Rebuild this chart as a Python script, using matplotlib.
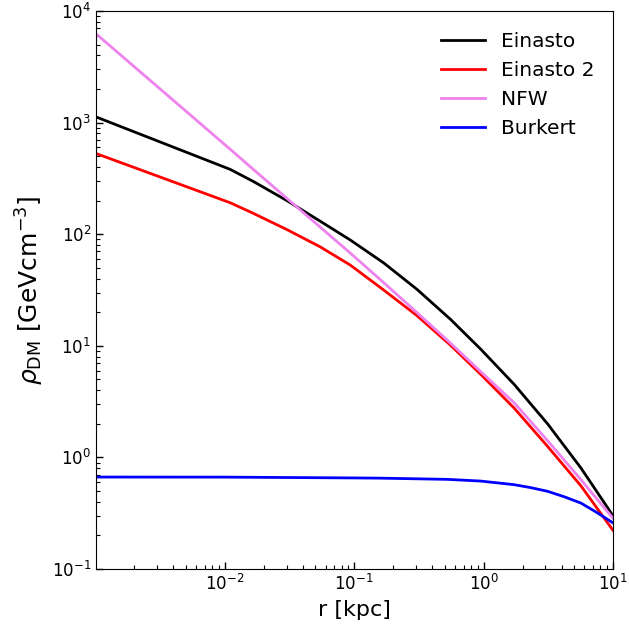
import numpy as np
import matplotlib
matplotlib.use("Agg")
import matplotlib.pyplot as plt

# ── Density profiles (r in kpc, rho in GeV/cm^3) ────────────────────────────
r_kpc     = [0.001, 0.011, 0.0166, 0.0301, 0.0545, 0.093, 0.169, 0.306,
             0.555, 0.948, 1.72, 3.12, 5.65, 10.0]
rho_ein   = [1130, 381, 297, 200.4, 130.9, 88.9, 55.3, 32.0,
             17.26, 9.35, 4.52, 2.00, 0.804, 0.300]
rho_ein2  = [531, 191.4, 153.8, 110.2, 77.1, 53.0, 31.6, 18.6,
             10.12, 5.56, 2.77, 1.256, 0.556, 0.222]
rho_nfw   = [6310, 577, 381, 210, 115.9, 67.9, 36.8, 19.8,
             10.56, 5.88, 3.09, 1.413, 0.631, 0.285]

r_bur     = [0.001, 0.01, 0.1, 0.159, 0.524, 0.948, 1.72, 2.3, 3.12,
             4.2, 5.65, 7.5, 10.0]
rho_bur   = [0.667, 0.666, 0.655, 0.652, 0.636, 0.614, 0.570, 0.537, 0.497,
             0.444, 0.390, 0.321, 0.259]

# ── Plot ─────────────────────────────────────────────────────────────────────
fig, ax = plt.subplots(figsize=(6.29, 6.28), dpi=100)
fig.subplots_adjust(left=0.1526, right=0.9746, top=0.9825, bottom=0.0939)

ax.loglog(r_kpc, rho_ein,  color="black",  lw=2, label="Einasto")
ax.loglog(r_kpc, rho_ein2, color="red",    lw=2, label="Einasto 2")
ax.loglog(r_kpc, rho_nfw,  color="violet", lw=2, label="NFW")
ax.loglog(r_bur, rho_bur,  color="blue",   lw=2, label="Burkert")

ax.set_xlim(1.01e-3, 10)
ax.set_ylim(1e-1, 1e4)

ax.set_xlabel("r [kpc]", fontsize=16)
ax.set_ylabel(r"$\rho_{\rm DM}$ [GeVcm$^{-3}$]", fontsize=18)

ax.tick_params(which="both", direction="in", top=False, right=False, labelsize=12)
ax.tick_params(which="major", length=5, width=1)
ax.tick_params(which="minor", length=3, width=0.8)

ax.legend(loc="upper right", bbox_to_anchor=(1.0, 0.995), frameon=False,
          fontsize=14.5, handlelength=2.2)

plt.savefig("out.png", dpi=100)
